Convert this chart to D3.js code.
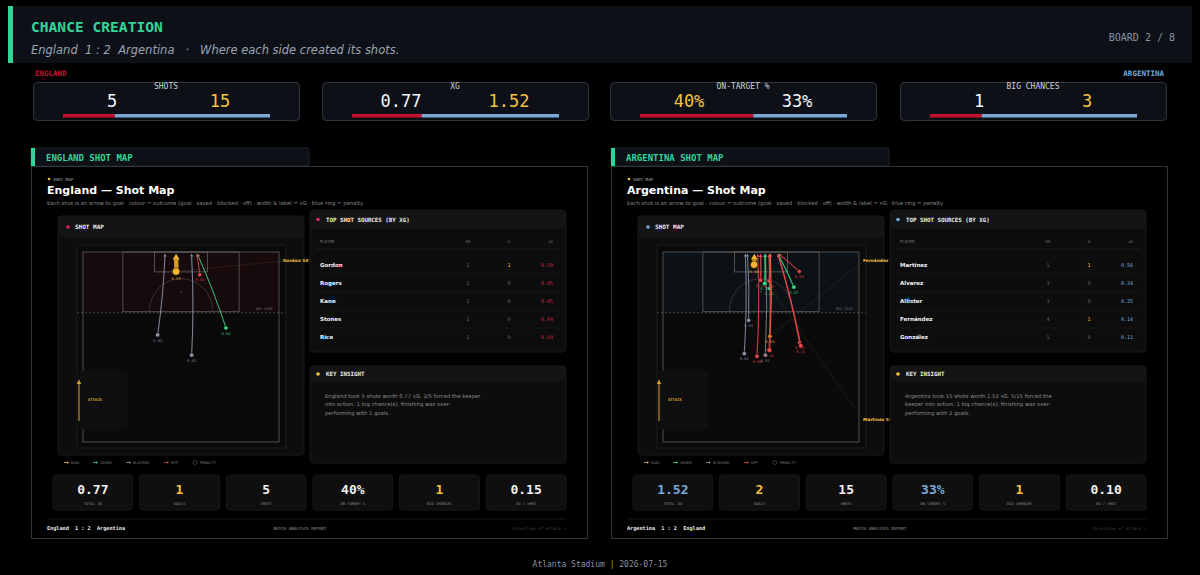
<!DOCTYPE html>
<html>
<head>
<meta charset="utf-8">
<script src="https://cdn.jsdelivr.net/npm/d3@7"></script>
<style>
body { margin: 0; background: #000; }
</style>
</head>
<body>
<svg id="chart"></svg>
<script>
// ---- data ----
var kpiLabels = ["SHOTS", "XG", "ON-TARGET %", "BIG CHANCES"];
var kpiEngland = [5, 0.77, 40, 1];
var kpiArgentina = [15, 1.52, 33, 3];
var kpiFormat = ["d", ".2f", "pct", "d"];

var englandShots = [
    {player: "Gordon", minute: 54, x: 32.3, y: 5.4, ex: 32.3, outcome: "goal", xg: 0.59},
    {player: "Rogers", x: 25.9, y: 22.9, ex: 28.5, outcome: "blocked", xg: 0.05},
    {player: "Kane", x: 37.7, y: 28.5, ex: 37.7, outcome: "blocked", xg: 0.05},
    {player: "Stones", x: 49.6, y: 21.0, ex: 39.7, outcome: "saved", xg: 0.04},
    {player: "Rice", x: 40.5, y: 6.3, ex: 39.5, outcome: "off", xg: 0.04}
];
var argentinaShots = [
    {player: "Fernández", minute: 78, x: 37.1, y: 23.3, ex: 37.3, outcome: "goal", xg: 0.03},
    {player: "Martinez", minute: 51, x: 31.6, y: 3.5, ex: 31.7, outcome: "goal", xg: 0.56},
    {player: "Alvarez", x: 36.9, y: 27.1, ex: 36.9, outcome: "off", xg: 0.18},
    {player: "Alvarez", x: 33.8, y: 7.8, ex: 33.9, outcome: "off", xg: 0.10},
    {player: "Alvarez", x: 32.6, y: 28.8, ex: 32.9, outcome: "off", xg: 0.06},
    {player: "Allister", x: 35.3, y: 8.7, ex: 35.4, outcome: "saved", xg: 0.12},
    {player: "Allister", x: 36.8, y: 8.0, ex: 37.1, outcome: "off", xg: 0.09},
    {player: "Allister", x: 28.2, y: 28.1, ex: 28.6, outcome: "blocked", xg: 0.04},
    {player: "Fernández", x: 36.9, y: 10.1, ex: 37.1, outcome: "saved", xg: 0.02},
    {player: "Fernández", x: 35.5, y: 28.5, ex: 35.6, outcome: "blocked", xg: 0.02},
    {player: "Fernández", x: 45.4, y: 9.7, ex: 39.9, outcome: "saved", xg: 0.07},
    {player: "González", x: 47.8, y: 25.9, ex: 39.9, outcome: "off", xg: 0.11},
    {player: "Paredes", x: 29.7, y: 18.9, ex: 29.3, outcome: "blocked", xg: 0.04},
    {player: "Mac Allister", x: 47.3, y: 5.4, ex: 40.1, outcome: "off", xg: 0.04},
    {player: "Di María", x: 47.4, y: 25.1, ex: 39.9, outcome: "off", xg: 0.04}
];

var engPlayers = ["Gordon", "Rogers", "Kane", "Stones", "Rice"];
var engSh = [1, 1, 1, 1, 1];
var engG = [1, 0, 0, 0, 0];
var engXg = [0.59, 0.05, 0.05, 0.04, 0.04];

var argPlayers = ["Martinez", "Alvarez", "Allister", "Fernández", "González"];
var argSh = [1, 3, 3, 4, 1];
var argG = [1, 0, 0, 1, 0];
var argXg = [0.56, 0.34, 0.25, 0.14, 0.11];

var tileLabels = ["TOTAL XG", "GOALS", "SHOTS", "ON-TARGET %", "BIG CHANCES", "XG / SHOT"];
var engTiles = ["0.77", "1", "5", "40%", "1", "0.15"];
var argTiles = ["1.52", "2", "15", "33%", "1", "0.10"];

var engInsight = ["England took 5 shots worth 0.77 xG. 2/5 forced the keeper",
    "into action. 1 big chance(s); finishing was over-",
    "performing with 1 goals."];
var argInsight = ["Argentina took 15 shots worth 1.52 xG. 5/15 forced the",
    "keeper into action. 1 big chance(s); finishing was over-",
    "performing with 2 goals."];

var legendItems = ["GOAL", "SAVED", "BLOCKED", "OFF", "PENALTY"];

// ---- setup ----
var W = 1200, H = 575;
var mono = "'DejaVu Sans Mono', monospace";
var sans = "'DejaVu Sans', sans-serif";
var GREEN = "#34d399", YELLOW = "#f5c242", RED = "#c8102e", BLUE = "#75aadb";
var outcomeColor = {goal: "#f5b82e", saved: "#3ddc84", blocked: "#8f97aa", off: "#e5484d"};

var svg = d3.select("#chart").attr("width", W).attr("height", H);
svg.append("rect").attr("width", W).attr("height", H).attr("fill", "#000");

// header
svg.append("rect").attr("x", 8).attr("y", 6).attr("width", 1184).attr("height", 57).attr("fill", "#0d1117");
svg.append("rect").attr("x", 8).attr("y", 6).attr("width", 5).attr("height", 57).attr("fill", GREEN);
svg.append("text").attr("x", 31).attr("y", 32).text("CHANCE CREATION")
    .attr("font-family", mono).attr("font-weight", "bold").attr("font-size", 14.6).attr("fill", GREEN);
svg.append("text").attr("x", 31).attr("y", 54)
    .attr("font-family", sans).attr("font-style", "italic").attr("font-size", 11.5).attr("fill", "#9aa4b2")
    .attr("xml:space", "preserve")
    .text("England  1 : 2  Argentina   ·   Where each side created its shots.");
svg.append("text").attr("x", 1175).attr("y", 41).attr("text-anchor", "end").text("BOARD 2 / 8")
    .attr("font-family", mono).attr("font-size", 10).attr("fill", "#8b949e");

// KPI strip
svg.append("text").attr("x", 35).attr("y", 76).text("ENGLAND")
    .attr("font-family", mono).attr("font-weight", "bold").attr("font-size", 7.5).attr("fill", RED);
svg.append("text").attr("x", 1164).attr("y", 76).attr("text-anchor", "end").text("ARGENTINA")
    .attr("font-family", mono).attr("font-weight", "bold").attr("font-size", 7.5).attr("fill", BLUE);

var cardX = [33, 322, 610, 900];
kpiLabels.forEach(function(lab, i) {
    var x0 = cardX[i], w = 266, cx = x0 + w / 2;
    var a = kpiEngland[i], b = kpiArgentina[i];
    var fmt = function(v) {
        if (kpiFormat[i] === "pct") return v + "%";
        return d3.format(kpiFormat[i])(v);
    };
    svg.append("rect").attr("x", x0 + 0.5).attr("y", 82.5).attr("width", w).attr("height", 38).attr("rx", 4)
        .attr("fill", "#0d1117").attr("stroke", "#30363d");
    svg.append("text").attr("x", cx).attr("y", 89).attr("text-anchor", "middle").text(lab)
        .attr("font-family", mono).attr("font-size", 8).attr("fill", "#c9d1d9");
    svg.append("text").attr("x", cx - 54).attr("y", 107).attr("text-anchor", "middle").text(fmt(a))
        .attr("font-family", mono).attr("font-size", 17).attr("fill", a > b ? YELLOW : "#f0f6fc");
    svg.append("text").attr("x", cx + 54).attr("y", 107).attr("text-anchor", "middle").text(fmt(b))
        .attr("font-family", mono).attr("font-size", 17).attr("fill", b > a ? YELLOW : "#f0f6fc");
    var bar = d3.scaleLinear().domain([0, a + b]).range([x0 + 30, x0 + w - 29]);
    svg.append("rect").attr("x", bar(0)).attr("y", 114).attr("width", bar(a) - bar(0)).attr("height", 3.5).attr("fill", RED);
    svg.append("rect").attr("x", bar(a)).attr("y", 114).attr("width", bar(a + b) - bar(a)).attr("height", 3.5).attr("fill", "#7aa7d6");
});

// ---- team panels ----
function drawPanel(ox, cfg) {
    var g = svg.append("g").attr("transform", "translate(" + ox + ",0)");

    // tab + frame
    g.append("rect").attr("x", 31).attr("y", 148).attr("width", 278).attr("height", 18).attr("rx", 2)
        .attr("fill", "#0d1117").attr("stroke", "#21262d");
    g.append("rect").attr("x", 31).attr("y", 148).attr("width", 4).attr("height", 18).attr("fill", GREEN);
    g.append("text").attr("x", 46).attr("y", 160.5).text(cfg.tab)
        .attr("font-family", mono).attr("font-weight", "bold").attr("font-size", 9).attr("fill", GREEN);
    g.append("rect").attr("x", 31.5).attr("y", 166.5).attr("width", 556).attr("height", 372)
        .attr("fill", "#000").attr("stroke", "#30363d");

    g.append("circle").attr("cx", 49).attr("cy", 179).attr("r", 1.3).attr("fill", YELLOW);
    g.append("text").attr("x", 53).attr("y", 181).text("SHOT MAP")
        .attr("font-family", mono).attr("font-size", 4.2).attr("fill", "#aaa");
    g.append("text").attr("x", 47).attr("y", 194).text(cfg.team + " — Shot Map")
        .attr("font-family", sans).attr("font-weight", "bold").attr("font-size", 11).attr("fill", "#fff");
    g.append("text").attr("x", 47).attr("y", 205)
        .text("Each shot is an arrow to goal · colour = outcome (goal · saved · blocked · off) · width & label = xG · blue ring = penalty")
        .attr("font-family", sans).attr("font-size", 5.3).attr("fill", "#8a8a8a");

    // shot map card
    g.append("rect").attr("x", 58).attr("y", 216).attr("width", 246).attr("height", 239).attr("rx", 3)
        .attr("fill", "#0d0d0d").attr("stroke", "#1a1a1a");
    g.append("rect").attr("x", 58).attr("y", 216).attr("width", 246).attr("height", 22).attr("rx", 3).attr("fill", "#141414");
    g.append("circle").attr("cx", 68).attr("cy", 227).attr("r", 1.8).attr("fill", cfg.accent);
    g.append("text").attr("x", 75).attr("y", 229).text("SHOT MAP")
        .attr("font-family", mono).attr("font-weight", "bold").attr("font-size", 6).attr("fill", "#eee");

    var xs = d3.scaleLinear().domain([0, 68]).range([83, 279]);
    var ys = d3.scaleLinear().domain([0, 52.5]).range([252, 442]);

    g.append("rect").attr("x", 77).attr("y", 245).attr("width", 209).attr("height", 203)
        .attr("fill", "#0a0a0a").attr("stroke", "#1c1c1c");
    g.append("rect").attr("x", xs(0)).attr("y", ys(0)).attr("width", xs(68) - xs(0)).attr("height", ys(16.8) - ys(0))
        .attr("fill", cfg.zone);

    var line = "#5f5f5f";
    g.append("rect").attr("x", xs(0)).attr("y", ys(0)).attr("width", xs(68) - xs(0)).attr("height", ys(52.5) - ys(0))
        .attr("fill", "none").attr("stroke", line).attr("stroke-width", 0.8);
    g.append("rect").attr("x", xs(13.84)).attr("y", ys(0)).attr("width", xs(54.16) - xs(13.84)).attr("height", ys(16.5) - ys(0))
        .attr("fill", "none").attr("stroke", line).attr("stroke-width", 0.8);
    g.append("rect").attr("x", xs(24.84)).attr("y", ys(0)).attr("width", xs(43.16) - xs(24.84)).attr("height", ys(5.5) - ys(0))
        .attr("fill", "none").attr("stroke", line).attr("stroke-width", 0.8);
    g.append("circle").attr("cx", xs(34)).attr("cy", ys(11)).attr("r", 0.8).attr("fill", line);
    var rx = xs(45) - xs(34), ry = ys(16.5) - ys(7.35);
    g.append("path")
        .attr("d", "M" + (xs(34) - rx) + "," + ys(16.5) + " A" + rx + "," + ry + " 0 0 1 " + (xs(34) + rx) + "," + ys(16.5))
        .attr("fill", "none").attr("stroke", "#444").attr("stroke-width", 0.7);
    g.append("line").attr("x1", 77).attr("x2", 286).attr("y1", ys(16.8)).attr("y2", ys(16.8))
        .attr("stroke", "#555").attr("stroke-dasharray", "2,2").attr("stroke-width", 0.8);
    g.append("text").attr("x", 273).attr("y", ys(16.8) - 3).attr("text-anchor", "end").text("BOX EDGE")
        .attr("font-family", mono).attr("font-size", 3.6).attr("fill", "#666");

    // attack box
    g.append("rect").attr("x", 77).attr("y", 371).attr("width", 51).attr("height", 58).attr("rx", 3).attr("fill", "#0f0f0f");
    g.append("line").attr("x1", 79).attr("x2", 79).attr("y1", 421).attr("y2", 383)
        .attr("stroke", "#d9a533").attr("stroke-width", 1);
    g.append("path").attr("d", "M76.8,384 L79,379.5 L81.2,384 Z").attr("fill", "#d9a533");
    g.append("text").attr("x", 88).attr("y", 401).text("ATTACK")
        .attr("font-family", mono).attr("font-weight", "bold").attr("font-size", 3.8).attr("fill", "#d9a533");

    // shots
    var width = d3.scaleLinear().domain([0, 0.6]).range([0.8, 4.4]);
    var radius = d3.scaleLinear().domain([0, 0.6]).range([2, 3.8]);
    var goalSlots = [262, 421];
    var goals = cfg.shots.filter(function(d) { return d.outcome === "goal"; });

    goals.forEach(function(d, i) {
        g.append("line").attr("x1", xs(d.x)).attr("y1", ys(d.y)).attr("x2", 283).attr("y2", goalSlots[i] - 1)
            .attr("stroke", outcomeColor.goal).attr("stroke-opacity", 0.2).attr("stroke-width", 0.5);
    });

    var shotG = g.append("g");
    cfg.shots.slice().sort(function(a, b) { return a.xg - b.xg; }).forEach(function(d) {
        var c = outcomeColor[d.outcome];
        var sx = xs(d.x), sy = ys(d.y), ex = xs(d.ex), ey = ys(0.5);
        var dx = ex - sx, dy = ey - sy, len = Math.sqrt(dx * dx + dy * dy);
        var ux = dx / len, uy = dy / len;
        var hl = 2.5 + d.xg * 6, hw = 1.4 + d.xg * 3.5;
        var bx = ex - ux * hl, by = ey - uy * hl;
        // slight bend
        var mx = (sx + bx) / 2 - uy * len * 0.025, my = (sy + by) / 2 + ux * len * 0.025;
        shotG.append("path").attr("d", "M" + sx + "," + sy + " Q" + mx + "," + my + " " + bx + "," + by)
            .attr("fill", "none").attr("stroke", c).attr("stroke-width", width(d.xg)).attr("stroke-opacity", 0.85);
        shotG.append("path")
            .attr("d", "M" + ex + "," + ey + " L" + (bx - uy * hw) + "," + (by + ux * hw) + " L" + (bx + uy * hw) + "," + (by - ux * hw) + " Z")
            .attr("fill", c);
        var r = radius(d.xg);
        shotG.append("circle").attr("cx", sx).attr("cy", sy).attr("r", r)
            .attr("fill", c).attr("stroke", "#000").attr("stroke-width", 0.5);
        shotG.append("text").attr("x", sx).attr("y", sy + r + 4.5).attr("text-anchor", "middle")
            .text(d.xg.toFixed(2))
            .attr("font-family", mono).attr("font-size", 3.8).attr("fill", c).attr("fill-opacity", 0.85);
    });

    goals.forEach(function(d, i) {
        g.append("text").attr("x", 283).attr("y", goalSlots[i]).text(d.player + " " + d.minute + "'")
            .attr("font-family", sans).attr("font-weight", "bold").attr("font-size", 4.3).attr("fill", YELLOW);
    });

    // legend
    var legX = [64, 93, 126, 164, 193];
    var legC = [outcomeColor.goal, outcomeColor.saved, outcomeColor.blocked, outcomeColor.off, "#555"];
    legendItems.forEach(function(lab, i) {
        if (lab === "PENALTY") {
            g.append("circle").attr("cx", legX[i] + 2).attr("cy", 462.5).attr("r", 2)
                .attr("fill", "none").attr("stroke", "#555").attr("stroke-width", 0.6);
        } else {
            g.append("line").attr("x1", legX[i]).attr("x2", legX[i] + 4).attr("y1", 462.5).attr("y2", 462.5)
                .attr("stroke", legC[i]).attr("stroke-width", 0.8);
            g.append("path").attr("d", "M" + (legX[i] + 3) + ",461.3 L" + (legX[i] + 5) + ",462.5 L" + (legX[i] + 3) + ",463.7 Z")
                .attr("fill", legC[i]);
        }
        g.append("text").attr("x", legX[i] + 7).attr("y", 464).text(lab)
            .attr("font-family", mono).attr("font-size", 3.8).attr("fill", "#777");
    });

    // table card
    g.append("rect").attr("x", 310).attr("y", 210).attr("width", 256).attr("height", 142).attr("rx", 3)
        .attr("fill", "#0d0d0d").attr("stroke", "#1a1a1a");
    g.append("rect").attr("x", 310).attr("y", 210).attr("width", 256).attr("height", 19).attr("rx", 3).attr("fill", "#141414");
    g.append("circle").attr("cx", 318).attr("cy", 219.5).attr("r", 1.8).attr("fill", cfg.accent);
    g.append("text").attr("x", 326).attr("y", 221.5).text("TOP SHOT SOURCES (BY XG)")
        .attr("font-family", mono).attr("font-weight", "bold").attr("font-size", 5.8).attr("fill", "#eee");
    var colX = [320, 468, 509, 553];
    var colAnchor = ["start", "middle", "middle", "end"];
    ["PLAYER", "SH", "G", "xG"].forEach(function(h, i) {
        g.append("text").attr("x", colX[i]).attr("y", 243).attr("text-anchor", colAnchor[i]).text(h)
            .attr("font-family", mono).attr("font-size", 4).attr("fill", "#777");
    });
    g.append("line").attr("x1", 316).attr("x2", 560).attr("y1", 249).attr("y2", 249).attr("stroke", "#222").attr("stroke-width", 0.6);
    var rowY = d3.scalePoint().domain(cfg.players).range([265, 337]);
    cfg.players.forEach(function(p, i) {
        var y = rowY(p);
        if (i < cfg.players.length - 1) {
            g.append("line").attr("x1", 316).attr("x2", 560).attr("y1", y + 9).attr("y2", y + 9)
                .attr("stroke", "#1c1c1c").attr("stroke-width", 0.6);
        }
        g.append("text").attr("x", colX[0]).attr("y", y + 2).text(p)
            .attr("font-family", sans).attr("font-weight", "bold").attr("font-size", 5.5).attr("fill", "#f2f2f2");
        g.append("text").attr("x", colX[1]).attr("y", y + 2).attr("text-anchor", "middle").text(cfg.sh[i])
            .attr("font-family", mono).attr("font-size", 5).attr("fill", "#666");
        g.append("text").attr("x", colX[2]).attr("y", y + 2).attr("text-anchor", "middle").text(cfg.gl[i])
            .attr("font-family", mono).attr("font-size", 5).attr("fill", cfg.gl[i] > 0 ? YELLOW : "#666");
        g.append("text").attr("x", colX[3]).attr("y", y + 2).attr("text-anchor", "end").text(cfg.xg[i].toFixed(2))
            .attr("font-family", mono).attr("font-size", 5).attr("fill", cfg.xgColor);
    });

    // key insight card
    g.append("rect").attr("x", 310).attr("y", 366).attr("width", 256).attr("height", 97).attr("rx", 3)
        .attr("fill", "#0d0d0d").attr("stroke", "#1a1a1a");
    g.append("rect").attr("x", 310).attr("y", 366).attr("width", 256).attr("height", 16).attr("rx", 3).attr("fill", "#141414");
    g.append("circle").attr("cx", 318).attr("cy", 374).attr("r", 1.8).attr("fill", YELLOW);
    g.append("text").attr("x", 326).attr("y", 376).text("KEY INSIGHT")
        .attr("font-family", mono).attr("font-weight", "bold").attr("font-size", 5.8).attr("fill", "#eee");
    cfg.insight.forEach(function(t, i) {
        g.append("text").attr("x", 325).attr("y", 398 + i * 8.3).text(t)
            .attr("font-family", sans).attr("font-size", 5.3).attr("fill", "#8c8c8c");
    });

    // bottom tiles
    var tileX = d3.scaleBand().domain(tileLabels).range([53, 566]).paddingInner(0.08);
    tileLabels.forEach(function(lab, i) {
        var x = tileX(lab), w = tileX.bandwidth();
        g.append("rect").attr("x", x).attr("y", 475).attr("width", w).attr("height", 35).attr("rx", 3)
            .attr("fill", "#0f0f0f").attr("stroke", "#181818");
        g.append("text").attr("x", x + w / 2).attr("y", 494).attr("text-anchor", "middle").text(cfg.tiles[i])
            .attr("font-family", mono).attr("font-weight", "bold").attr("font-size", 13).attr("fill", cfg.tileColors[i]);
        g.append("text").attr("x", x + w / 2).attr("y", 504.5).attr("text-anchor", "middle").text(lab)
            .attr("font-family", mono).attr("font-size", 3.8).attr("fill", "#888");
    });

    // panel footer
    g.append("line").attr("x1", 47).attr("x2", 566).attr("y1", 519).attr("y2", 519).attr("stroke", "#161616");
    g.append("text").attr("x", 47).attr("y", 530).attr("xml:space", "preserve").text(cfg.footer)
        .attr("font-family", mono).attr("font-weight", "bold").attr("font-size", 5.2).attr("fill", "#eee");
    g.append("text").attr("x", 300).attr("y", 530).attr("text-anchor", "middle").text("MATCH ANALYSIS REPORT")
        .attr("font-family", mono).attr("font-size", 4.2).attr("fill", "#999");
    g.append("text").attr("x", 566).attr("y", 530).attr("text-anchor", "end").text("Direction of attack →")
        .attr("font-family", mono).attr("font-size", 4.2).attr("fill", "#444");
}

drawPanel(0, {
    tab: "ENGLAND SHOT MAP", team: "England", accent: "#e0245e", zone: "#160a0d",
    shots: englandShots, players: engPlayers, sh: engSh, gl: engG, xg: engXg, xgColor: "#d4213d",
    insight: engInsight, tiles: engTiles,
    tileColors: ["#f0f0f0", YELLOW, "#f0f0f0", "#f0f0f0", YELLOW, "#f0f0f0"],
    footer: "England  1 : 2  Argentina"
});
drawPanel(580, {
    tab: "ARGENTINA SHOT MAP", team: "Argentina", accent: BLUE, zone: "#0c1116",
    shots: argentinaShots, players: argPlayers, sh: argSh, gl: argG, xg: argXg, xgColor: BLUE,
    insight: argInsight, tiles: argTiles,
    tileColors: [BLUE, YELLOW, "#f0f0f0", BLUE, YELLOW, "#f0f0f0"],
    footer: "Argentina  1 : 2  England"
});

svg.append("text").attr("x", 600).attr("y", 567).attr("text-anchor", "middle").text("Atlanta Stadium | 2026-07-15")
    .attr("font-family", mono).attr("font-size", 8).attr("fill", "#8b949e");
</script>
</body>
</html>
